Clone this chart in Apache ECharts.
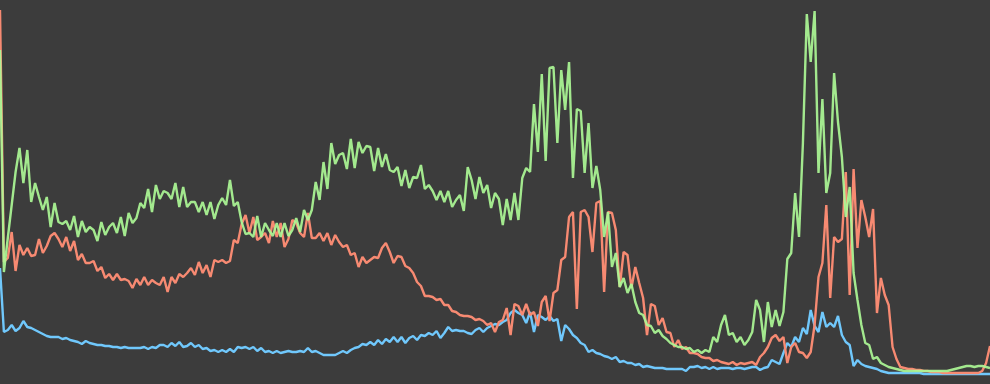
<!DOCTYPE html>
<html>
<head>
<meta charset="utf-8">
<script src="https://cdn.jsdelivr.net/npm/echarts@6/dist/echarts.min.js"></script>
<style>
html,body{margin:0;padding:0;background:#3c3c3c;}
#chart{width:990px;height:384px;}
</style>
</head>
<body>
<div id="chart"></div>
<script>
var green = [334,112,146,179,212,236,201,234,182,201,187,174,187,157,181,162,160,163,154,168,
147,163,152,157,154,143,162,149,157,161,151,167,148,171,161,166,181,176,195,172,
199,185,193,191,185,201,177,197,177,182,182,172,182,169,182,165,179,186,179,204,
178,182,162,150,151,147,168,147,161,154,148,161,147,161,148,154,166,152,174,164,
174,202,184,222,195,241,220,229,231,215,245,216,242,231,238,237,213,236,217,230,
214,212,217,198,214,196,207,206,219,195,199,193,184,193,182,193,177,184,189,173,
217,204,185,207,191,199,176,191,185,159,185,164,191,164,206,216,212,280,232,310,
223,316,317,241,314,274,322,206,275,273,211,261,196,218,194,147,172,117,131,97,
106,91,100,82,71,69,59,58,51,54,48,45,41,39,37,37,35,36,32,34,
31,34,32,47,42,59,69,49,51,42,47,39,44,52,84,74,42,82,57,74,
58,72,125,131,191,147,241,370,322,373,211,285,191,211,311,262,227,167,197,111,
84,59,41,39,25,27,21,19,17,16,15,14,13,13,13,13,13,13,13,13,
13,13,13,13,14,15,16,17,18,18,17,18,18,17,16];

var red = [374,122,126,152,113,139,129,136,128,129,145,131,138,148,151,145,137,147,133,143,
124,130,121,121,123,113,117,106,110,104,110,104,105,103,96,105,99,107,99,104,
101,99,107,92,107,101,110,107,111,116,109,122,111,119,107,124,122,124,121,123,
144,141,160,169,151,167,144,147,151,141,163,147,161,137,145,164,161,151,147,171,
146,146,151,143,151,139,149,142,137,139,129,131,117,127,121,124,127,126,136,141,
132,121,128,127,118,116,111,102,98,88,88,87,84,85,79,79,73,72,69,68,
68,67,64,65,63,59,61,52,62,64,76,49,80,78,69,80,69,72,58,82,
88,63,91,94,124,127,167,172,75,172,174,167,132,181,183,92,172,171,154,97,
132,129,96,117,101,86,49,80,78,59,66,52,51,37,44,35,37,31,31,30,
27,26,26,23,24,22,21,20,22,19,21,20,21,22,19,27,31,37,46,49,
43,47,21,37,41,32,31,26,32,59,107,121,179,86,147,142,145,212,89,215,
136,184,167,147,175,71,106,89,79,37,25,17,16,15,15,14,14,13,13,12,
12,12,11,11,11,11,11,11,11,11,11,11,13,21,38];

var blue = [116,52,54,59,53,56,63,57,56,54,52,50,48,47,47,47,45,46,44,43,
42,40,43,41,40,39,39,38,38,37,37,36,37,36,36,36,36,37,35,37,
36,39,39,37,41,38,42,37,38,41,37,39,35,36,33,34,32,34,32,35,
32,37,36,37,35,37,33,36,32,33,31,33,31,32,33,32,32,33,32,36,
32,33,31,29,29,29,29,31,33,31,34,36,37,40,39,42,39,44,40,45,
42,47,42,47,41,46,48,44,49,48,51,49,53,46,51,57,53,54,53,53,
51,50,54,56,52,56,58,60,59,62,64,71,74,71,69,61,72,52,69,67,
64,68,63,65,43,59,55,49,46,41,39,32,34,31,30,28,27,25,27,22,
23,21,21,19,20,17,18,17,16,16,16,15,15,15,15,15,13,17,17,18,
16,17,15,17,15,16,16,16,15,16,16,15,16,17,17,14,16,17,24,22,
20,31,41,37,47,42,56,50,74,58,52,72,57,61,57,68,49,42,39,18,
24,20,18,17,16,15,13,12,11,11,11,11,11,11,11,11,11,10,10,10,
10,10,10,10,10,10,10,10,10,10,10,10,10,10,10];

var categories = [];
for (var i = 0; i < green.length; i++) categories.push(String(i + 1));

var chart = echarts.init(document.getElementById('chart'), null, {renderer: 'canvas'});
chart.setOption({
  backgroundColor: '#3c3c3c',
  animation: false,
  grid: {left: 0, right: 0, top: 0, bottom: 0},
  xAxis: {type: 'category', data: categories, boundaryGap: false, show: false},
  yAxis: {type: 'value', min: 0, max: 384, show: false},
  series: [
    {name: 'blue', type: 'line', data: blue, symbol: 'none', lineStyle: {color: '#70c8fc', width: 2.4}},
    {name: 'red', type: 'line', data: red, symbol: 'none', lineStyle: {color: '#f78a72', width: 2.4}},
    {name: 'green', type: 'line', data: green, symbol: 'none', lineStyle: {color: '#acf896', width: 2.4, opacity: 0.92}}
  ]
});
</script>
</body>
</html>
